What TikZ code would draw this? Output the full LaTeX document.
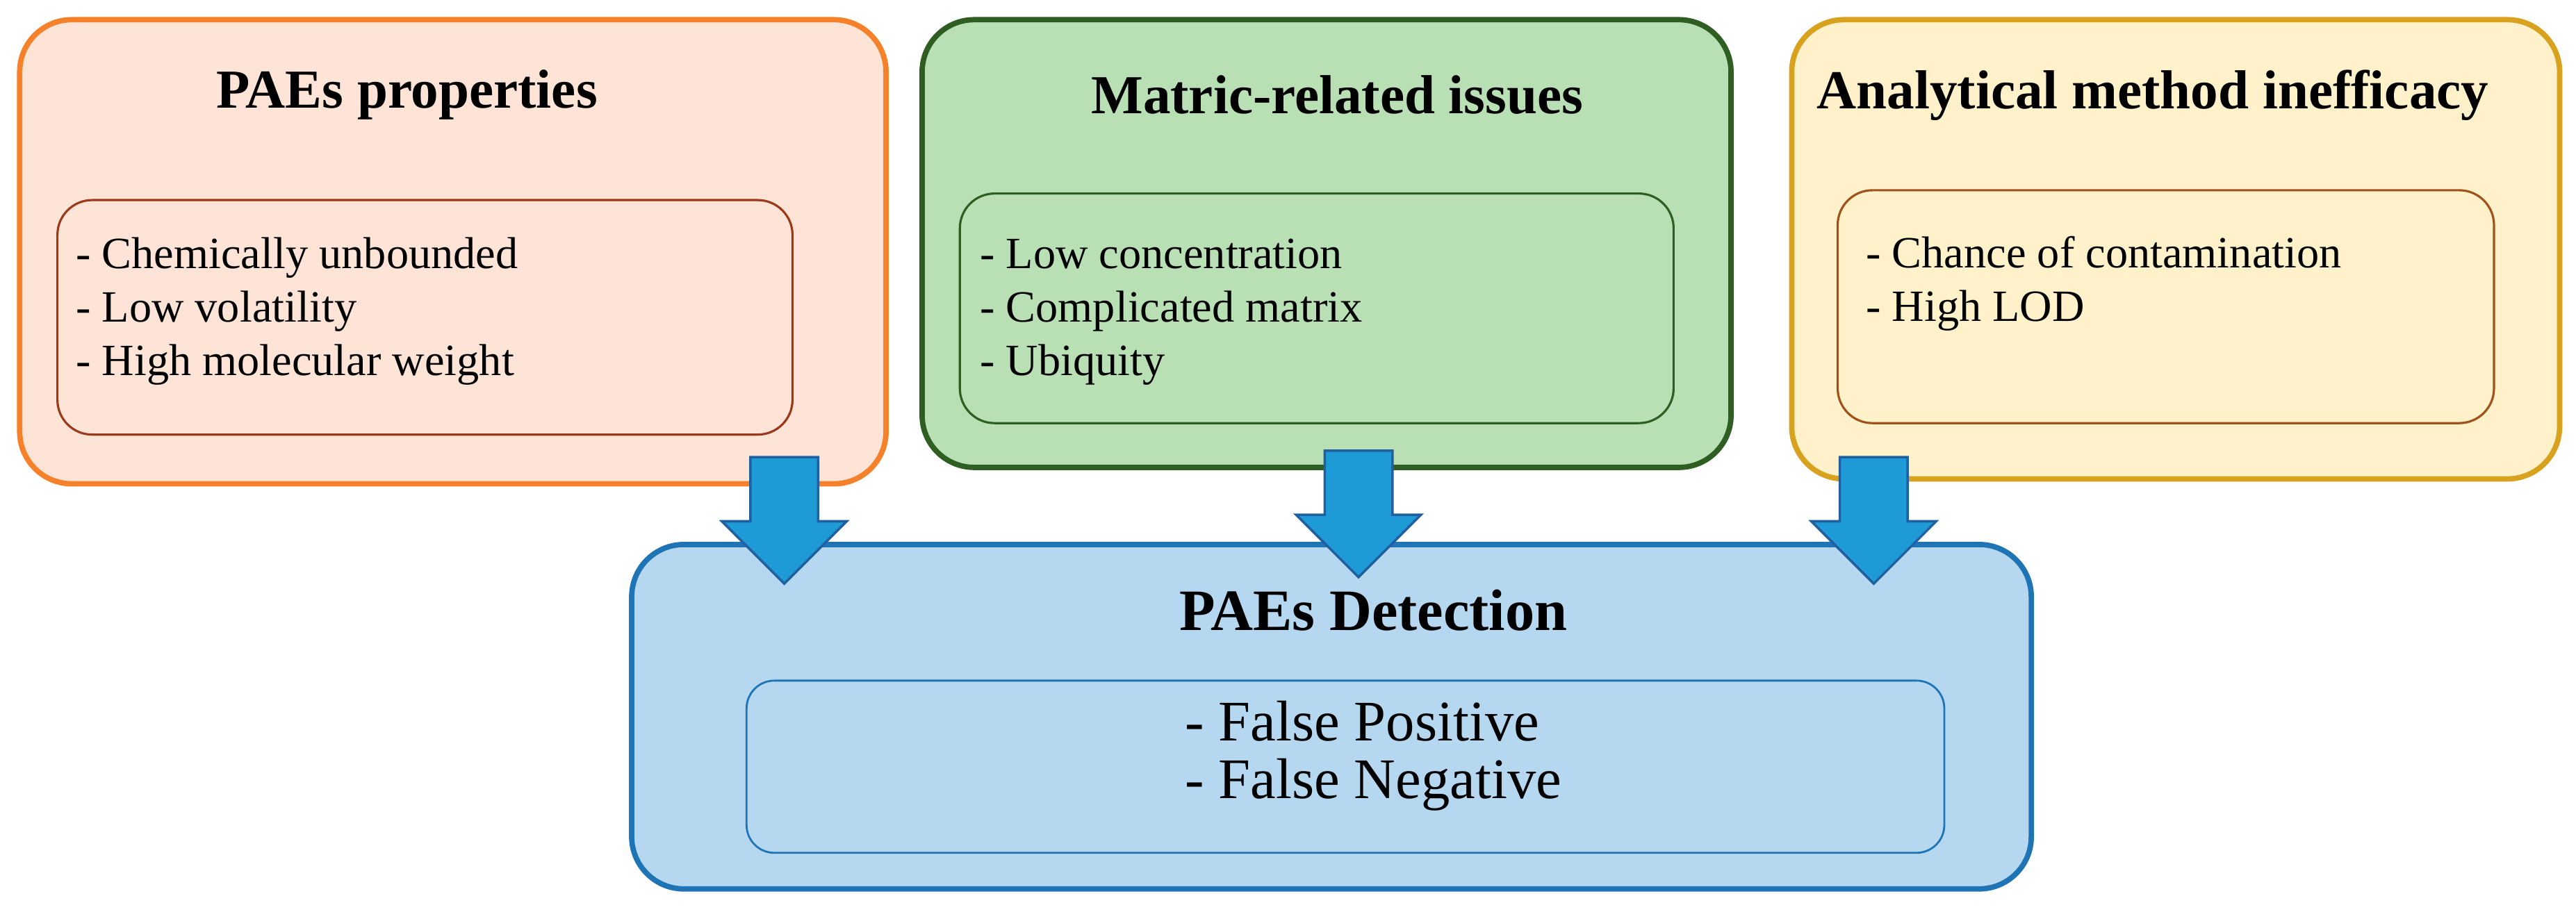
\documentclass[tikz,border=0pt]{standalone}
\usepackage{fontspec}
\setmainfont{Liberation Serif}
\usetikzlibrary{shapes.arrows}
\definecolor{oF}{HTML}{FDE4D6}\definecolor{oB}{HTML}{F5822A}\definecolor{oI}{HTML}{9A3A1A}
\definecolor{gF}{HTML}{B9E0B5}\definecolor{gB}{HTML}{2F5E22}\definecolor{gI}{HTML}{2F5E22}
\definecolor{yF}{HTML}{FFF1C9}\definecolor{yB}{HTML}{D9A21E}\definecolor{yI}{HTML}{A0521A}
\definecolor{bF}{HTML}{B5D8F0}\definecolor{bB}{HTML}{1F74B5}\definecolor{aF}{HTML}{1E9BD7}\definecolor{aB}{HTML}{2060A0}
\begin{document}
\begin{tikzpicture}[x=0.02361cm,y=-0.02361cm,
 outer/.style={draw, line width=2.2pt, rounded corners=0.75cm},
 inner/.style={draw, line width=0.9pt, rounded corners=0.5cm},
 ttl/.style={font=\fontsize{22.5}{26}\selectfont\bfseries, anchor=center},
 itm/.style={font=\fontsize{18.3}{22}\selectfont, align=left, anchor=base west, inner sep=0pt},
 barr/.style={single arrow, draw=aB, fill=aF, line width=1pt, minimum width=1.77cm, single arrow head extend=0.41cm, single arrow tip angle=90, minimum height=1.82cm, inner xsep=0pt, inner ysep=0.47cm, rotate=-90, anchor=center}]
\useasboundingbox (0,0) rectangle (1570,555.7);
% orange
\draw[outer, draw=oB, fill=oF] (12,12) rectangle (540,295);
\draw[inner, draw=oI] (35,122) rectangle (483,265);
\node[ttl] (t1) at (248,58) {PAEs properties};
\node[itm] (i1) at (46,229) {- Chemically unbounded\\- Low volatility\\- High molecular weight};
% green
\draw[outer, draw=gB, fill=gF] (562,12) rectangle (1055,285);
\draw[inner, draw=gI] (585,118) rectangle (1020,258);
\node[ttl] (t2) at (815,58) {Matric-related issues};
\node[itm] (i2) at (597,229) {- Low concentration\\- Complicated matrix\\- Ubiquity};
% yellow
\draw[outer, draw=yB, fill=yF] (1092,12) rectangle (1560,292);
\draw[inner, draw=yI] (1120,116) rectangle (1520,258);
\node[ttl] (t3) at (1312,58) {Analytical method inefficacy};
\node[itm] (i3) at (1137,196) {- Chance of contamination\\- High LOD};
% blue
\draw[outer, draw=bB, fill=bF] (385,332) rectangle (1238,542);
\draw[inner, draw=bB, line width=0.8pt, rounded corners=0.4cm] (455,415) rectangle (1185,520);
\node[font=\fontsize{24}{28}\selectfont\bfseries] (t4) at (837,372) {PAEs Detection};
\node[font=\fontsize{23.5}{23.5}\selectfont, align=left, anchor=center] (i4) at (837,461) {- False Positive\\- False Negative};
% arrows
\node[barr] (a1) at (478,307) {};
\node[barr] (a2) at (828,303) {};
\node[barr] (a3) at (1142,307) {};
\end{tikzpicture}
\end{document}
